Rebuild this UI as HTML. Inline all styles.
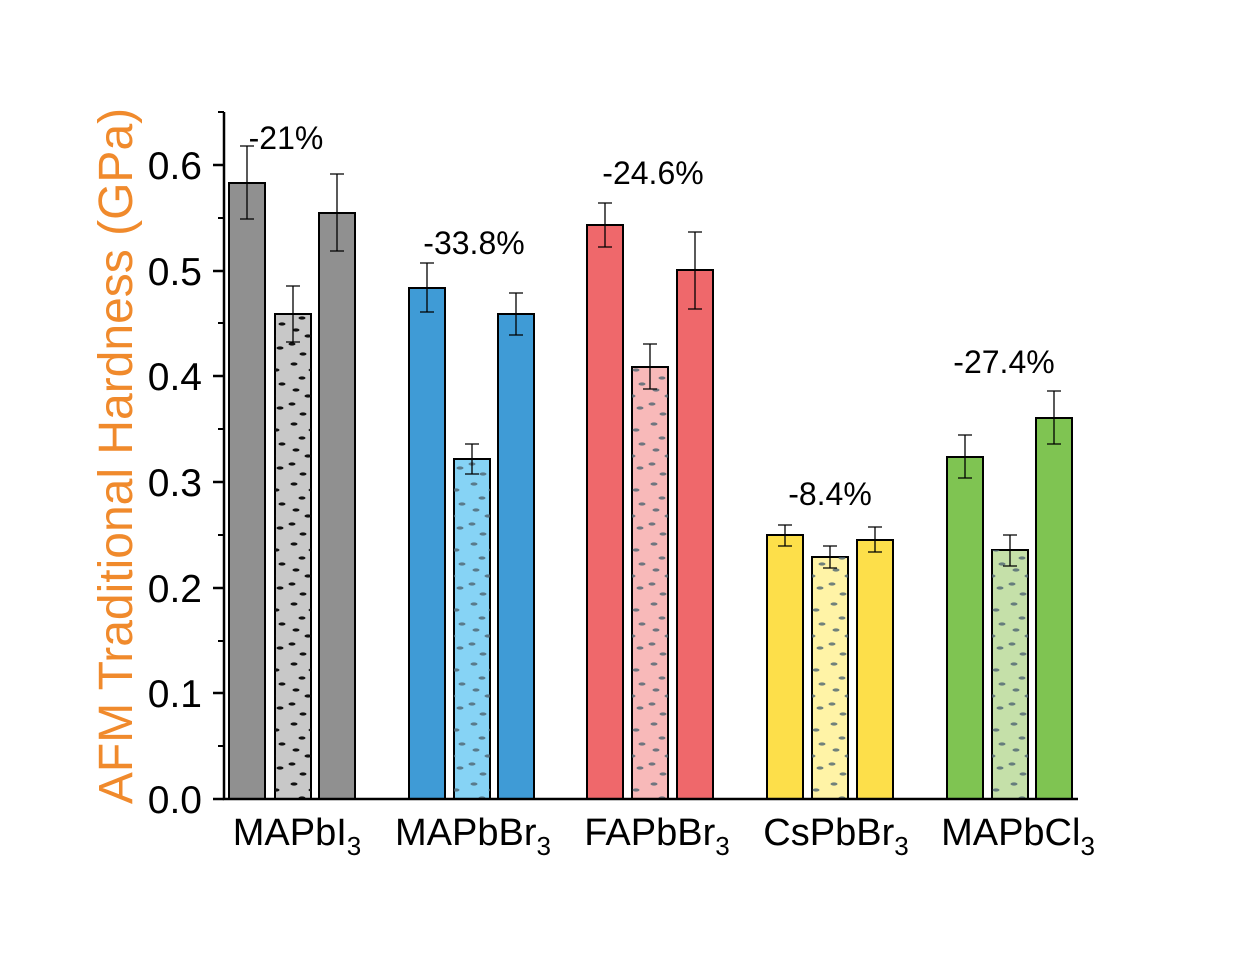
<!DOCTYPE html>
<html><head><style>body{margin:0;background:#fff}svg{display:block}text{font-family:"Liberation Sans",Arial,sans-serif}</style></head><body>
<svg width="1251" height="958" viewBox="0 0 1251 958" xmlns="http://www.w3.org/2000/svg">
<defs>
<pattern id="pk" width="36" height="60" patternUnits="userSpaceOnUse">
<g fill="#111"><ellipse cx="6" cy="4" rx="3.5" ry="1.6"/><ellipse cx="24" cy="10" rx="3.5" ry="1.6"/><ellipse cx="14" cy="18" rx="3.5" ry="1.6"/><ellipse cx="30" cy="24" rx="3.5" ry="1.6"/><ellipse cx="8" cy="30" rx="3.5" ry="1.6"/><ellipse cx="20" cy="36" rx="3.5" ry="1.6"/><ellipse cx="4" cy="44" rx="3.5" ry="1.6"/><ellipse cx="28" cy="48" rx="3.5" ry="1.6"/><ellipse cx="15" cy="54" rx="3.5" ry="1.6"/></g></pattern>
<pattern id="pg" width="36" height="60" patternUnits="userSpaceOnUse">
<g fill="#4d6470" opacity="0.8"><ellipse cx="6" cy="4" rx="3.5" ry="1.6"/><ellipse cx="24" cy="10" rx="3.5" ry="1.6"/><ellipse cx="14" cy="18" rx="3.5" ry="1.6"/><ellipse cx="30" cy="24" rx="3.5" ry="1.6"/><ellipse cx="8" cy="30" rx="3.5" ry="1.6"/><ellipse cx="20" cy="36" rx="3.5" ry="1.6"/><ellipse cx="4" cy="44" rx="3.5" ry="1.6"/><ellipse cx="28" cy="48" rx="3.5" ry="1.6"/><ellipse cx="15" cy="54" rx="3.5" ry="1.6"/></g></pattern>
</defs>
<g stroke="#000" stroke-width="2">
<rect x="229" y="183" width="36" height="616" fill="#909090"/>
<rect x="275" y="314" width="36" height="485" fill="#c8c8c8"/><rect x="275" y="314" width="36" height="485" fill="url(#pk)" stroke="none"/>
<rect x="319" y="213" width="36" height="586" fill="#909090"/>
<rect x="409" y="288" width="36" height="511" fill="#3f9bd6"/>
<rect x="454" y="459" width="36" height="340" fill="#86d3f5"/><rect x="454" y="459" width="36" height="340" fill="url(#pg)" stroke="none"/>
<rect x="498" y="314" width="36" height="485" fill="#3f9bd6"/>
<rect x="587" y="225" width="36" height="574" fill="#ef686b"/>
<rect x="632" y="367" width="36" height="432" fill="#f8b9b9"/><rect x="632" y="367" width="36" height="432" fill="url(#pg)" stroke="none"/>
<rect x="677" y="270" width="36" height="529" fill="#ef686b"/>
<rect x="767" y="535" width="36" height="264" fill="#fddf4a"/>
<rect x="812" y="557" width="36" height="242" fill="#fff3a6"/><rect x="812" y="557" width="36" height="242" fill="url(#pg)" stroke="none"/>
<rect x="857" y="540" width="36" height="259" fill="#fddf4a"/>
<rect x="947" y="457" width="36" height="342" fill="#7fc452"/>
<rect x="992" y="550" width="36" height="249" fill="#c5e0a9"/><rect x="992" y="550" width="36" height="249" fill="url(#pg)" stroke="none"/>
<rect x="1036" y="418" width="36" height="381" fill="#7fc452"/>
</g>
<g stroke="#000" stroke-width="1.3" fill="none">
<path d="M247 146V219M240 146H254M240 219H254"/>
<path d="M293 286V342M286 286H300M286 342H300"/>
<path d="M337 174V251M330 174H344M330 251H344"/>
<path d="M427 263V312M420 263H434M420 312H434"/>
<path d="M472 444V474M465 444H479M465 474H479"/>
<path d="M516 293V335M509 293H523M509 335H523"/>
<path d="M605 203V247M598 203H612M598 247H612"/>
<path d="M650 344V389M643 344H657M643 389H657"/>
<path d="M695 232V309M688 232H702M688 309H702"/>
<path d="M785 525V546M778 525H792M778 546H792"/>
<path d="M830 546V568M823 546H837M823 568H837"/>
<path d="M875 527V552M868 527H882M868 552H882"/>
<path d="M965 435V478M958 435H972M958 478H972"/>
<path d="M1010 535V566M1003 535H1017M1003 566H1017"/>
<path d="M1054 391V444M1047 391H1061M1047 444H1061"/>
</g>
<g stroke="#000" stroke-width="2.5" fill="none">
<path d="M224 112V799H1078"/>
<path d="M224 799H213M224 693H213M224 588H213M224 482H213M224 376H213M224 271H213M224 165H213"/>
<path d="M224 746H218M224 641H218M224 535H218M224 429H218M224 323H218M224 218H218M224 112H218" stroke-width="2"/>
</g>
<g font-size="39" text-anchor="end" fill="#000">
<text x="202" y="813">0.0</text><text x="202" y="707">0.1</text><text x="202" y="602">0.2</text><text x="202" y="496">0.3</text><text x="202" y="390">0.4</text><text x="202" y="285">0.5</text><text x="202" y="179">0.6</text>
</g>
<g font-size="32" text-anchor="middle" fill="#000">
<text x="286" y="149">-21%</text><text x="474" y="254">-33.8%</text><text x="653" y="184">-24.6%</text><text x="830" y="505">-8.4%</text><text x="1004" y="373">-27.4%</text>
</g>
<g font-size="38" text-anchor="middle" fill="#000">
<text x="297" y="845">MAPbI<tspan font-size="26" dy="10">3</tspan></text>
<text x="473" y="845">MAPbBr<tspan font-size="26" dy="10">3</tspan></text>
<text x="657" y="845">FAPbBr<tspan font-size="26" dy="10">3</tspan></text>
<text x="836" y="845">CsPbBr<tspan font-size="26" dy="10">3</tspan></text>
<text x="1018" y="845">MAPbCl<tspan font-size="26" dy="10">3</tspan></text>
</g>
<text transform="translate(132,456) rotate(-90)" font-size="48" fill="#f08a2c" text-anchor="middle">AFM Traditional Hardness (GPa)</text>
</svg>
</body></html>
